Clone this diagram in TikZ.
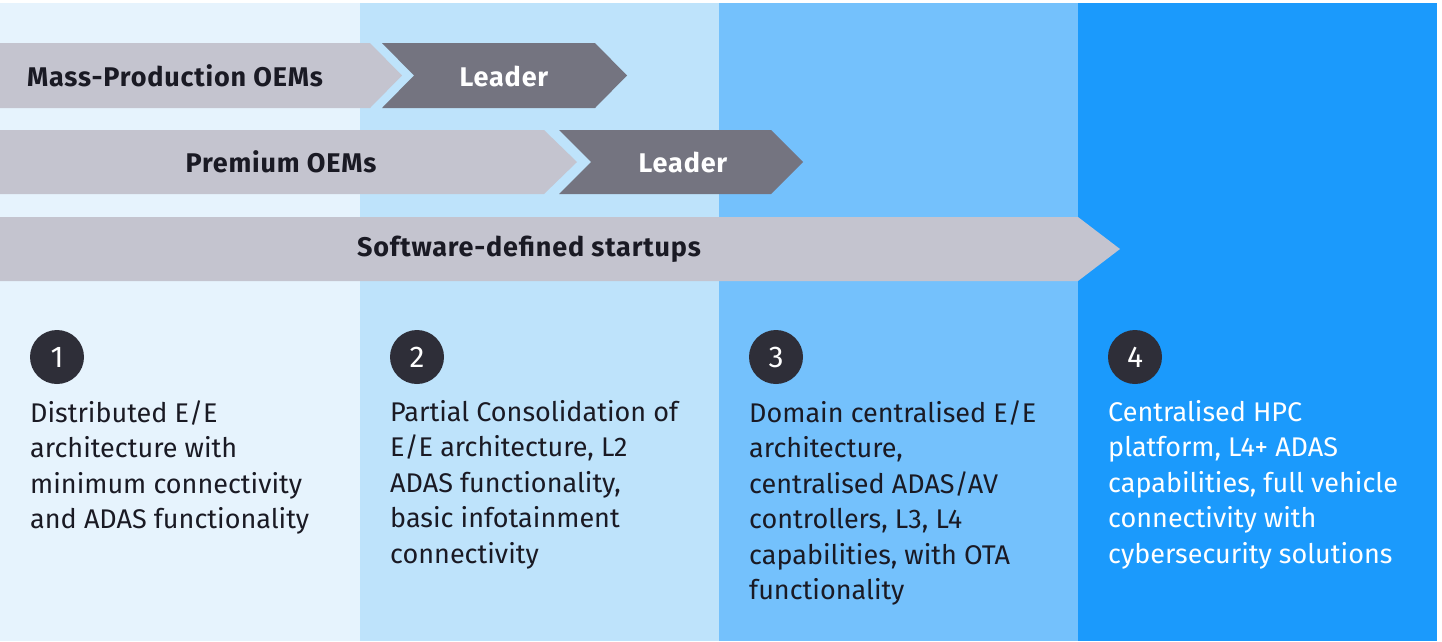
\documentclass[tikz,border=0pt]{standalone}
\usepackage{fontspec}
\setmainfont{Fira Sans}
\usetikzlibrary{positioning}
\definecolor{colA}{HTML}{E6F3FD}
\definecolor{colB}{HTML}{BEE3FB}
\definecolor{colC}{HTML}{74C1FC}
\definecolor{colD}{HTML}{1B9AFC}
\definecolor{arrgray}{HTML}{C4C4CF}
\definecolor{leadgray}{HTML}{747480}
\definecolor{circ}{HTML}{2E2E38}
\definecolor{ink}{HTML}{1A1A24}
\newfontfamily\labelfont[LetterSpace=3]{Fira Sans}
\tikzset{
  x=1pt,y=-1pt,
  arrlabel/.style={font=\labelfont\fontsize{27}{30}\selectfont\bfseries, text=ink, inner sep=0pt, anchor=center},
  leadlabel/.style={font=\labelfont\fontsize{27}{30}\selectfont\bfseries, text=white, inner sep=0pt, anchor=center},
  numcirc/.style={circle, fill=circ, minimum size=54pt, inner sep=0pt, text=white, font=\fontsize{30}{32}\selectfont},
  desc/.style={anchor=north west, align=left, inner sep=0pt, text=ink, font=\fontsize{27}{35.5}\selectfont},
}
\begin{document}
\begin{tikzpicture}
\useasboundingbox (0,0) rectangle (1442,641);
\fill[white] (0,0) rectangle (1442,641);
% columns
\fill[colA] (0,3) rectangle (360,641);
\fill[colB] (360,3) rectangle (719,641);
\fill[colC] (719,3) rectangle (1078,641);
\fill[colD] (1078,3) rectangle (1437,641);
% row 1
\fill[arrgray] (0,43) -- (370,43) -- (402,75.5) -- (370,108) -- (0,108) -- cycle;
\fill[leadgray] (382,43) -- (595,43) -- (627,75.5) -- (595,108) -- (382,108) -- (414,75.5) -- cycle;
\node[arrlabel] (mass) at (175,76) {Mass-Production OEMs};
\node[leadlabel] (lead1) at (504,76) {Leader};
% row 2
\fill[arrgray] (0,130) -- (544,130) -- (577,162) -- (544,194) -- (0,194) -- cycle;
\fill[leadgray] (559,130) -- (771,130) -- (803,162) -- (771,194) -- (559,194) -- (591,162) -- cycle;
\node[arrlabel] (prem) at (281,162) {Premium OEMs};
\node[leadlabel] (lead2) at (683,162) {Leader};
% row 3
\fill[arrgray] (0,217) -- (1078,217) -- (1120,249) -- (1078,281) -- (0,281) -- cycle;
\node[arrlabel] (soft) at (529,249) {Software-defined startups};
% circles
\node[numcirc] (n1) at (57,357) {1};
\node[numcirc] (n2) at (417,357) {2};
\node[numcirc] (n3) at (776,357) {3};
\node[numcirc] (n4) at (1135,357) {4};
% descriptions
\node[desc] (d1) at (30,400) {Distributed E/E\\architecture with\\minimum connectivity\\and ADAS functionality};
\node[desc] (d2) at (390,400) {Partial Consolidation of\\E/E architecture, L2\\ADAS functionality,\\basic infotainment\\connectivity};
\node[desc] (d3) at (749,400) {Domain centralised E/E\\architecture,\\centralised ADAS/AV\\controllers, L3, L4\\capabilities, with OTA\\functionality};
\node[desc, text=white] (d4) at (1108,400) {Centralised HPC\\platform, L4+ ADAS\\capabilities, full vehicle\\connectivity with\\cybersecurity solutions};
\end{tikzpicture}
\end{document}
